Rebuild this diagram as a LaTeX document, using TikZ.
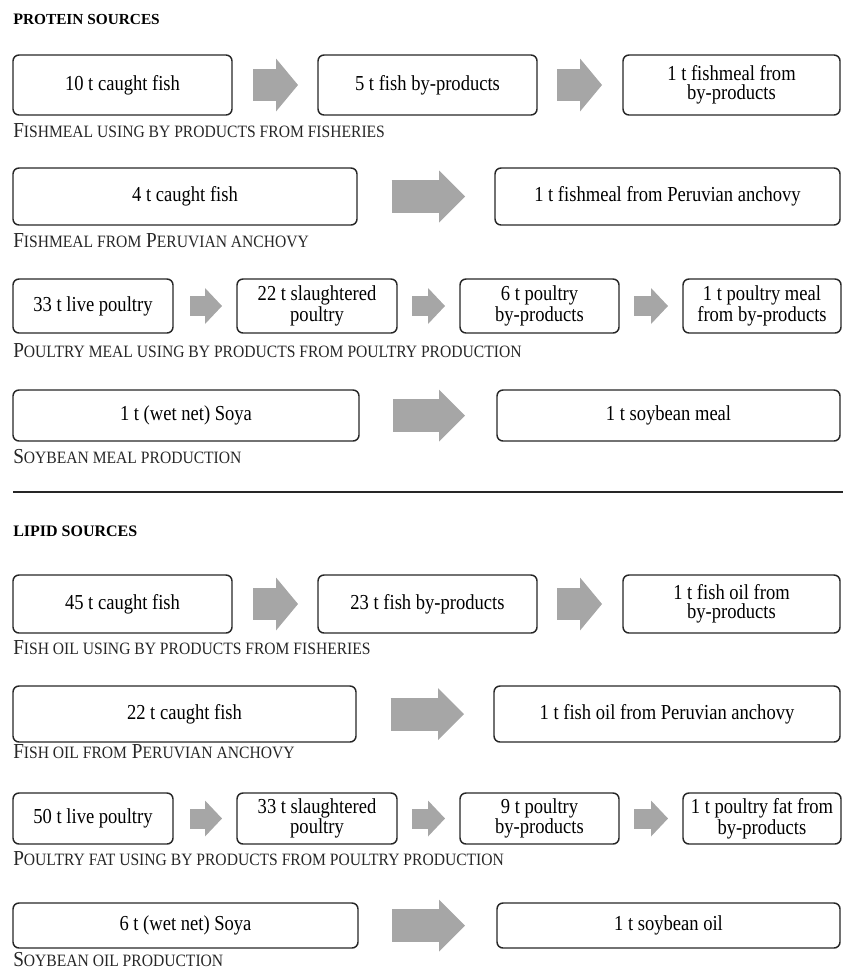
\documentclass[tikz,border=0pt]{standalone}
\usepackage{fontspec}
\setmainfont{Liberation Serif}[FakeStretch=0.87]
\newfontfamily\capfont{Liberation Serif}[FakeStretch=0.9]
\newfontfamily\headfont{Liberation Serif}
\usetikzlibrary{arrows.meta}

\definecolor{boxline}{HTML}{262626}
\definecolor{arrowgray}{HTML}{A6A6A6}

% smaller capitals for captions and headings
\newcommand{\lowcap}[1]{{\fontsize{13pt}{15pt}\selectfont #1}}
\newcommand{\lowhead}[1]{{\fontsize{11.5pt}{13pt}\selectfont #1}}

\tikzset{
  box/.style={draw=boxline, line width=1.1pt, rounded corners=4.5pt, inner sep=0pt, outer sep=0pt,
    align=center, text=black, font=\fontsize{16pt}{14pt}\selectfont},
  caption/.style={anchor=west, inner sep=0pt, text=boxline, font=\capfont\fontsize{16pt}{18pt}\selectfont},
  heading/.style={anchor=west, inner sep=0pt, text=black, font=\headfont\bfseries\fontsize{12pt}{14pt}\selectfont},
  midarrow/.style={draw=arrowgray, line width=24pt, -{Triangle[length=16.5pt,width=39.75pt,line width=0pt]}},
  bigarrow/.style={draw=arrowgray, line width=24.75pt, -{Triangle[length=19.5pt,width=39pt,line width=0pt]}},
  smallarrow/.style={draw=arrowgray, line width=15pt, -{Triangle[length=12.75pt,width=27pt,line width=0pt]}}
}

\begin{document}
\begin{tikzpicture}[x=0.75pt,y=-0.75pt]
\useasboundingbox (0,0) rectangle (843,971);

\node[heading] (protein) at (13,19) {P\lowhead{ROTEIN SOURCES}};

% fishmeal from fisheries by-products
\node[box, minimum width=164.25pt, minimum height=45pt] (fm1) at (122.5,85) {10 t caught fish};
\node[box, minimum width=164.25pt, minimum height=45pt] (fm2) at (427.5,85) {5 t fish by-products};
\node[box, minimum width=162.75pt, minimum height=45pt] (fm3) at (731.5,85) {1 t fishmeal from\\by-products};
\draw[midarrow, shorten <=15.75pt, shorten >=15pt] (fm1) -- (fm2);
\draw[midarrow, shorten <=15pt, shorten >=15.75pt] (fm2) -- (fm3);
\node[caption] (fmcap) at (13,131) {F\lowcap{ISHMEAL USING BY PRODUCTS FROM FISHERIES}};

% fishmeal from anchovy
\node[box, minimum width=258pt, minimum height=42.75pt] (an1) at (185,196.5) {4 t caught fish};
\node[box, minimum width=258.75pt, minimum height=42.75pt] (an2) at (667.5,196.5) {1 t fishmeal from Peruvian anchovy};
\draw[bigarrow, shorten <=26pt, shorten >=22.5pt] (an1) -- (an2);
\node[caption] (ancap) at (13,241) {F\lowcap{ISHMEAL FROM} P\lowcap{ERUVIAN ANCHOVY}};

% poultry meal
\node[box, minimum width=120pt, minimum height=40.5pt] (pm1) at (93,306) {33 t live poultry};
\node[box, minimum width=120pt, minimum height=40.5pt] (pm2) at (317,306) {22 t slaughtered\\poultry};
\node[box, minimum width=119.25pt, minimum height=40.5pt] (pm3) at (539.5,306) {6 t poultry\\by-products};
\node[box, minimum width=118.5pt, minimum height=40.5pt] (pm4) at (762,306) {1 t poultry meal\\from by-products};
\draw[smallarrow, shorten <=12.75pt, shorten >=11.25pt] (pm1) -- (pm2);
\draw[smallarrow, shorten <=11.25pt, shorten >=11.25pt] (pm2) -- (pm3);
\draw[smallarrow, shorten <=11.25pt, shorten >=11.25pt] (pm3) -- (pm4);
\node[caption] (pmcap) at (13,351) {P\lowcap{OULTRY MEAL USING BY PRODUCTS FROM POULTRY PRODUCTION}};

% soybean meal
\node[box, minimum width=259.5pt, minimum height=38.25pt] (sm1) at (186,415.5) {1 t (wet net) Soya};
\node[box, minimum width=257.25pt, minimum height=38.25pt] (sm2) at (668.5,415.5) {1 t soybean meal};
\draw[bigarrow, shorten <=25.5pt, shorten >=24pt] (sm1) -- (sm2);
\node[caption] (smcap) at (13,457) {S\lowcap{OYBEAN MEAL PRODUCTION}};

\draw[boxline, line width=1.3pt] (13,492) -- (843,492);

\node[heading] (lipid) at (13,531) {LIPID SOURCES};

% fish oil from fisheries by-products
\node[box, minimum width=164.25pt, minimum height=43.5pt] (fo1) at (122.5,604) {45 t caught fish};
\node[box, minimum width=164.25pt, minimum height=43.5pt] (fo2) at (427.5,604) {23 t fish by-products};
\node[box, minimum width=162.75pt, minimum height=43.5pt] (fo3) at (731.5,604) {1 t fish oil from\\by-products};
\draw[midarrow, shorten <=15.75pt, shorten >=15pt] (fo1) -- (fo2);
\draw[midarrow, shorten <=15pt, shorten >=15.75pt] (fo2) -- (fo3);
\node[caption] (focap) at (13,648) {F\lowcap{ISH OIL USING BY PRODUCTS FROM FISHERIES}};

% fish oil from anchovy
\node[box, minimum width=257.25pt, minimum height=42pt] (ao1) at (184.5,714) {22 t caught fish};
\node[box, minimum width=259.5pt, minimum height=42pt] (ao2) at (667,714) {1 t fish oil from Peruvian anchovy};
\draw[bigarrow, shorten <=26pt, shorten >=22.5pt] (ao1) -- (ao2);
\node[caption] (aocap) at (13,752) {F\lowcap{ISH OIL FROM} P\lowcap{ERUVIAN ANCHOVY}};

% poultry fat
\node[box, minimum width=120pt, minimum height=38.25pt] (pf1) at (93,818.5) {50 t live poultry};
\node[box, minimum width=120pt, minimum height=38.25pt] (pf2) at (317,818.5) {33 t slaughtered\\poultry};
\node[box, minimum width=119.25pt, minimum height=38.25pt] (pf3) at (539.5,818.5) {9 t poultry\\by-products};
\node[box, minimum width=118.5pt, minimum height=38.25pt] (pf4) at (762,818.5) {1 t poultry fat from\\by-products};
\draw[smallarrow, shorten <=12.75pt, shorten >=11.25pt] (pf1) -- (pf2);
\draw[smallarrow, shorten <=11.25pt, shorten >=11.25pt] (pf2) -- (pf3);
\draw[smallarrow, shorten <=11.25pt, shorten >=11.25pt] (pf3) -- (pf4);
\node[caption] (pfcap) at (13,859) {P\lowcap{OULTRY FAT USING BY PRODUCTS FROM POULTRY PRODUCTION}};

% soybean oil
\node[box, minimum width=258.75pt, minimum height=33.75pt] (so1) at (185.5,925.5) {6 t (wet net) Soya};
\node[box, minimum width=257.25pt, minimum height=33.75pt] (so2) at (668.5,925.5) {1 t soybean oil};
\draw[bigarrow, shorten <=25.5pt, shorten >=24pt] (so1) -- (so2);
\node[caption] (socap) at (13,960) {S\lowcap{OYBEAN OIL PRODUCTION}};
\end{tikzpicture}
\end{document}
